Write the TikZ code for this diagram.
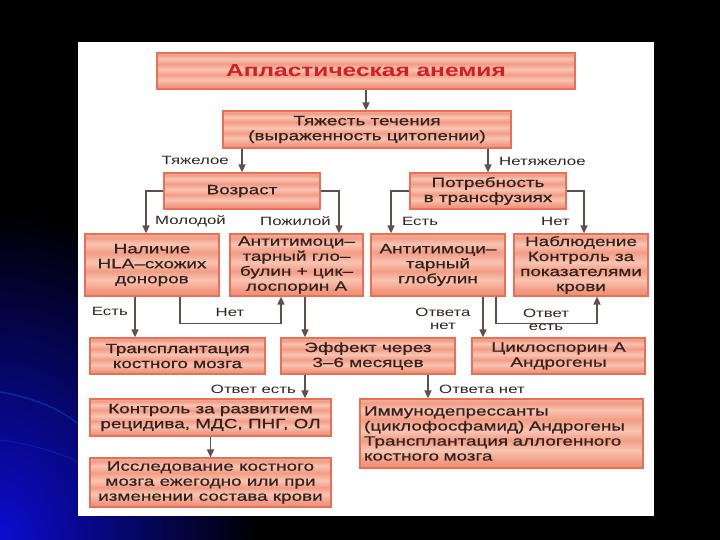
\documentclass[tikz,border=0pt]{standalone}
\usepackage{fontspec}
\setmainfont{Liberation Sans}[FakeStretch=1.4]
\newfontfamily\boxfont{Liberation Sans}[FakeStretch=1.4, FakeBold=0.7]
\usetikzlibrary{arrows.meta, calc}

\definecolor{boxtop}{RGB}{246,176,154}
\definecolor{boxlight}{RGB}{249,196,178}
\definecolor{boxmid}{RGB}{242,156,132}
\definecolor{boxdark}{RGB}{238,140,114}
\definecolor{boxedge}{RGB}{230,112,88}
\definecolor{boxtext}{RGB}{50,34,30}
\definecolor{linecol}{RGB}{96,80,76}
\definecolor{titlered}{RGB}{212,30,38}
\definecolor{slideblue}{RGB}{12,12,210}

\pgfdeclareverticalshading{salmonbands}{100bp}{color(0bp)=(boxdark); color(25bp)=(boxdark);
  color(30bp)=(boxmid); color(38bp)=(boxlight); color(45bp)=(boxmid); color(52bp)=(boxlight);
  color(60bp)=(boxmid); color(67bp)=(boxlight); color(72bp)=(boxmid); color(75bp)=(boxtop);
  color(100bp)=(boxtop)}

\tikzset{
  flowbox/.style={draw=boxedge, line width=1.2pt, shade, shading=salmonbands, inner sep=0pt,
    minimum height=36pt, align=center, text=boxtext, font=\boxfont\fontsize{13.5}{15}\selectfont},
  link/.style={draw=linecol, line width=1.6pt, -{Triangle[width=7pt,length=8pt]}},
  branch/.style={inner sep=0pt, text=boxtext, font=\fontsize{12}{13}\selectfont}
}

\begin{document}
\begin{tikzpicture}[x=1pt, y=-1pt]

  % Slide background
  \useasboundingbox (0,0) rectangle (720,540);
  \fill[black] (0,0) rectangle (720,540);
  \begin{scope}
    \clip (0,0) rectangle (720,540);
    \shade[inner color=slideblue, outer color=black] (0,540) ellipse (260 and 330);
    \draw[blue!50!cyan, opacity=0.3, line width=1.5pt] (0,392) .. controls (35,398) and (62,410) .. (78,424);
    \draw[blue!50!cyan, opacity=0.2, line width=1pt] (0,440) .. controls (30,444) and (58,452) .. (78,462);
  \end{scope}
  \fill[white] (78,42) rectangle (654,516);

  % Boxes
  \node[flowbox, minimum width=418pt, text=titlered, font=\fontsize{17.5}{19}\selectfont\bfseries]
    (anemia) at (366,71) {Апластическая анемия};
  \node[flowbox, minimum width=288pt, minimum height=37pt] (severity) at (367,129.5)
    {Тяжесть течения\\(выраженность цитопении)};
  \node[flowbox, minimum width=156pt] (age) at (242,191) {Возраст};
  \node[flowbox, minimum width=156pt] (transfusion) at (488,191) {Потребность\\в трансфузиях};

  \node[flowbox, minimum width=134pt, minimum height=62pt] (hla) at (152,265)
    {Наличие\\HLA–схожих\\доноров};
  \node[flowbox, minimum width=133pt, minimum height=62pt] (atgcsa) at (296.5,265)
    {Антитимоци–\\тарный гло–\\булин + цик–\\лоспорин А};
  \node[flowbox, minimum width=134pt, minimum height=62pt] (atg) at (438,265)
    {Антитимоци–\\тарный\\глобулин};
  \node[flowbox, minimum width=134pt, minimum height=62pt] (observe) at (581,265)
    {Наблюдение\\Контроль за\\показателями\\крови};

  \node[flowbox, minimum width=175pt] (bmt) at (177.5,356) {Трансплантация\\костного мозга};
  \node[flowbox, minimum width=174pt] (effect) at (368,356) {Эффект через\\3–6 месяцев};
  \node[flowbox, minimum width=173pt] (csa) at (558.5,356) {Циклоспорин А\\Андрогены};

  \node[flowbox, minimum width=241pt, minimum height=37pt] (relapse) at (210.5,417.5)
    {Контроль за развитием\\рецидива, МДС, ПНГ, ОЛ};
  \node[flowbox, minimum height=69pt, inner xsep=4pt, text width=275pt, align=left] (immuno) at (501.5,433.5)
    {Иммунодепрессанты\\(циклофосфамид) Андрогены\\Трансплантация аллогенного\\костного мозга};
  \node[flowbox, minimum width=241pt, minimum height=49pt] (marrow) at (210.5,482.5)
    {Исследование костного\\мозга ежегодно или при\\изменении состава крови};

  % Arrows
  \draw[link] (anemia.south) -- (anemia.south |- severity.north);
  \draw[link] (severity.south -| age.north) -- (age.north);
  \draw[link] (severity.south -| transfusion.north) -- (transfusion.north);
  \draw[link] (age.west) -| ($(hla.north)+(-6,0)$);
  \draw[link] (age.east) -| ($(atgcsa.north)+(42.5,0)$);
  \draw[link] (transfusion.west) -| ($(atg.north)+(-47,0)$);
  \draw[link] (transfusion.east) -| ($(observe.north)+(3,0)$);

  \coordinate (hlayes) at ($(hla.south)+(-17,0)$);
  \coordinate (hlano) at ($(hla.south)+(28,0)$);
  \coordinate (atgcsaout) at ($(atgcsa.south)+(8.5,0)$);
  \coordinate (atgno) at ($(atg.south)+(45,0)$);
  \coordinate (atgyes) at ($(atg.south)+(58,0)$);
  \draw[link] (hlayes) -- (hlayes |- bmt.north);
  \draw[link] (hlano) -- ++(0,27) -| ($(atgcsa.south)+(-15.5,0)$);
  \draw[link] (atgcsaout) -- (atgcsaout |- effect.north);
  \draw[link] (atgno) -- (atgno |- csa.north);
  \draw[link] (atgyes) -- ++(0,27) -| ($(observe.south)+(16,0)$);

  \coordinate (effyes) at ($(effect.south)+(-63,0)$);
  \coordinate (effno) at ($(effect.south)+(60,0)$);
  \draw[link] (effyes) -- (effyes |- relapse.north);
  \draw[link] (effno) -- (effno |- immuno.north);
  \draw[link] (relapse.south) -- (marrow.north);

  % Branch labels
  \node[branch, anchor=east] (heavy) at (229,160) {Тяжелое};
  \node[branch, anchor=west] (mild) at (499,161) {Нетяжелое};
  \node[branch, anchor=west] (young) at (155,221) {Молодой};
  \node[branch, anchor=east] (old) at (331,221) {Пожилой};
  \node[branch, anchor=west] (needed) at (402,221) {Есть};
  \node[branch, anchor=east] (notneeded) at (570,221) {Нет};
  \node[branch, anchor=east] (donor) at (128,311) {Есть};
  \node[branch] (nodonor) at (230,312) {Нет};
  \node[branch, align=center] (atgnolab) at (443,319) {Ответа\\нет};
  \node[branch, align=center] (atgyeslab) at (546,320) {Ответ\\есть};
  \node[branch, anchor=east] (effyeslab) at (296,389) {Ответ есть};
  \node[branch, anchor=west] (effnolab) at (439,389) {Ответа нет};

\end{tikzpicture}
\end{document}
